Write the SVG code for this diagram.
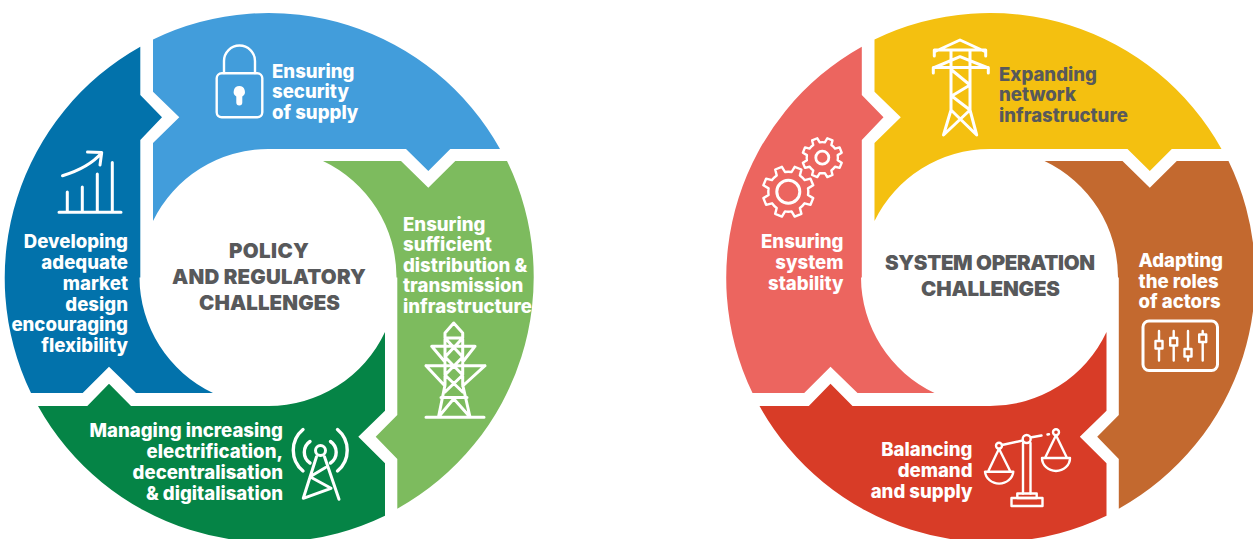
<svg xmlns="http://www.w3.org/2000/svg" xmlns:xlink="http://www.w3.org/1999/xlink" width="1253" height="539" viewBox="0 0 1253 539">
<style>
text{font-family:Inter,"Liberation Sans",sans-serif;font-weight:800;font-size:18.600px;fill:#fff}
.end{text-anchor:end}
.grey{fill:#58595b}
.title{font-size:20.500px;font-weight:900;fill:#58595b;text-anchor:middle}
.ic{fill:none;stroke:#fff;stroke-width:2.400;stroke-linecap:round;stroke-linejoin:round}
.ic2{fill:none;stroke:#fff;stroke-width:3;stroke-linecap:round;stroke-linejoin:round}
</style>
<defs>
<path id="seg1" d="M153 39.500A265 265 0 0 1 500 149L450.300 149L428.300 171L406 149L268 149A128.500 128.500 0 0 0 153 221L153 143L179.300 117.300L153 91.700Z"/>
<path id="seg2" d="M507 161A265 265 0 0 1 397.300 508.700L397.300 459L375.700 436.700L397.300 415L397.300 277.500L396.500 277.500A128.500 128.500 0 0 0 323 161L401 161L428.300 187.700L455.300 161Z"/>
<path id="seg3" d="M385 515.700A265 265 0 0 1 38 406L87.300 406L109 383.700L131 406L268 406A128.500 128.500 0 0 0 385 332L385 410.700L358.300 436.700L385 463.300Z"/>
<path id="seg4" d="M140.300 46.700A265 265 0 0 0 31 393L82.700 393L109 366.700L136 393L213 393A128.500 128.500 0 0 1 139.500 277.500L140.300 277.500L140.300 140L162 117.300L140.300 95Z"/>
<path id="gear" d="M19.700 3.300L24.900 6.400L22.200 13.100L16.300 11.600A20 20 0 0 1 11.600 16.300L13.100 22.200L6.400 24.900L3.300 19.700A20 20 0 0 1 -3.300 19.700L-6.400 24.900L-13.100 22.200L-11.600 16.300A20 20 0 0 1 -16.300 11.600L-22.200 13.100L-24.900 6.400L-19.700 3.300A20 20 0 0 1 -19.700 -3.300L-24.900 -6.400L-22.200 -13.100L-16.300 -11.600A20 20 0 0 1 -11.600 -16.300L-13.100 -22.200L-6.400 -24.900L-3.300 -19.700A20 20 0 0 1 3.300 -19.700L6.400 -24.900L13.100 -22.200L11.600 -16.300A20 20 0 0 1 16.300 -11.600L22.200 -13.100L24.900 -6.400L19.700 -3.300A20 20 0 0 1 19.700 3.300Z"/>
</defs>

<g id="node-security-of-supply">
<use xlink:href="#seg1" href="#seg1" fill="#429ddb"/>
<g class="ic">
<rect x="216.700" y="73.300" width="45.600" height="44" rx="5"/>
<path d="M224 73V61A15.500 15.500 0 0 1 255 61V73"/>
</g>
<path d="M239.300 86a5.700 5.700 0 0 1 3 10.500l0 6a3 3 0 0 1-6 0l0-6a5.700 5.700 0 0 1 3-10.500Z" fill="#fff"/>
<text x="272" y="77.500">Ensuring</text>
<text x="272" y="98">security</text>
<text x="272" y="118.500">of supply</text>
</g>

<g id="node-distribution-transmission">
<use xlink:href="#seg2" href="#seg2" fill="#7dbb5e"/>
<text x="403" y="230.500">Ensuring</text>
<text x="403" y="251">sufficient</text>
<text x="403" y="271.500">distribution &amp;</text>
<text x="403" y="292">transmission</text>
<text x="403" y="313">infrastructure</text>
<path class="ic2" d="M445 385V333L453.700 323L462.700 333V385M445 385L438.500 417M462.700 385L470 417M426 417.300H484M431.700 346.300H475M426 365.700H485M431.700 346.300L445 362M475 346.300L462.700 362M426 365.700L445 386M485 365.700L462.700 386M445 338H462.700M445 338L462.700 357L445 375L462.700 392M462.700 338L445 357L462.700 375L445 392M441 397.500H467M453.700 398.700L438.500 417M453.700 398.700L470 417"/>
</g>

<g id="node-electrification">
<use xlink:href="#seg3" href="#seg3" fill="#058446"/>
<text class="end" x="283" y="437">Managing increasing</text>
<text class="end" x="283" y="458">electrification,</text>
<text class="end" x="283" y="479">decentralisation</text>
<text class="end" x="283" y="500">&amp; digitalisation</text>
<g class="ic2">
<circle cx="320.500" cy="450.500" r="5"/>
<path d="M316.500 456.700L303.300 498.300L331 488.300L310 476.700L325.500 467.500M324.500 456.700L339 499.300"/>
<path stroke-width="3.400" d="M303 429.500A27 27 0 0 0 303 471M310 441.500A13 13 0 0 0 310 463M337.500 429.500A27 27 0 0 1 337.500 471M330.500 441.500A13 13 0 0 1 330.500 463"/>
</g>
</g>

<g id="node-market-design">
<use xlink:href="#seg4" href="#seg4" fill="#0272ab"/>
<text class="end" x="128" y="248">Developing</text>
<text class="end" x="128" y="269">adequate</text>
<text class="end" x="128" y="289.500">market</text>
<text class="end" x="128" y="310.500">design</text>
<text class="end" x="128" y="331">encouraging</text>
<text class="end" x="128" y="352">flexibility</text>
<path class="ic2" d="M59 212.300H121M67.300 212.300V192M82.300 212.300V187M97.300 212.300V174M112.300 212.300V162.500M62.500 175.700C78 171 92 164 101.500 153M87.500 152L101.700 152.500L100 165"/>
</g>

<text id="title-policy-1" class="title" x="269" y="257.500" textLength="80">POLICY</text>
<text id="title-policy-2" class="title" x="269" y="283.500" textLength="194">AND REGULATORY</text>
<text id="title-policy-3" class="title" x="269.500" y="309.500" textLength="141">CHALLENGES</text>

<g id="node-expanding-network">
<use xlink:href="#seg1" href="#seg1" transform="translate(721.500 0)" fill="#f4c010"/>
<path class="ic2" d="M951 50V110L943.500 135L970 110M970 50V110L976.700 135L951 110M935 51.500L960 40L985 51.500M934.300 50H985.700M934.300 50V56M985.700 50V56M934.500 67.500L960 56.700L987 67.500M933.300 67.500H988.300M933.300 67.500V73M988.300 67.500V73M951.700 70L970 85L951.700 96L970 110"/>
<text class="grey" x="999" y="81">Expanding</text>
<text class="grey" x="999" y="101">network</text>
<text class="grey" x="999" y="121.500">infrastructure</text>
</g>

<g id="node-adapting-roles">
<use xlink:href="#seg2" href="#seg2" transform="translate(721.500 0)" fill="#c3692f"/>
<text x="1138.500" y="267">Adapting</text>
<text x="1138.500" y="287.500">the roles</text>
<text x="1138.500" y="308">of actors</text>
<rect class="ic2" x="1143" y="321" width="74.500" height="49.500" rx="6"/>
<g class="ic">
<path d="M1159 331V360.500M1173.700 331V360.500M1188 331V360.500M1202.700 331V360.500"/>
<rect x="1155.500" y="341" width="7" height="7.500" fill="#c3692f"/>
<rect x="1170.200" y="338" width="7" height="7.500" fill="#c3692f"/>
<rect x="1184.500" y="349" width="7" height="7.500" fill="#c3692f"/>
<rect x="1199.200" y="334.500" width="7" height="7.500" fill="#c3692f"/>
</g>
</g>

<g id="node-balancing">
<use xlink:href="#seg3" href="#seg3" transform="translate(721.500 0)" fill="#d83c27"/>
<text class="end" x="972.500" y="455.500">Balancing</text>
<text class="end" x="972.500" y="476.500">demand</text>
<text class="end" x="972.500" y="497.500">and supply</text>
<g class="ic">
<circle cx="1026.700" cy="439" r="4"/>
<circle cx="999" cy="445.700" r="3"/>
<circle cx="1056" cy="432.300" r="3"/>
<path d="M1002 445L1022.700 440.500M1031.700 437.300L1041.500 435.500M1047.500 434.500L1049 434.200"/>
<path d="M1023 443V493.500M1030.500 443V493.500"/>
<rect x="1017.300" y="493.500" width="19.400" height="4.500"/>
<rect x="1011.500" y="498" width="31" height="8"/>
<path d="M999 448.700L988 471.700M999 448.700L1010.500 471.700M985 471.700H1013.300A14.200 13 0 0 1 985 471.700Z"/>
<path d="M1056 435.300L1045 458M1056 435.300L1067 458M1042 458H1070A14 13 0 0 1 1042 458Z"/>
</g>
</g>

<g id="node-system-stability">
<use xlink:href="#seg4" href="#seg4" transform="translate(721.500 0)" fill="#ec655f"/>
<text class="end" x="843.500" y="248">Ensuring</text>
<text class="end" x="843.500" y="269">system</text>
<text class="end" x="843.500" y="290">stability</text>
<g class="ic">
<use xlink:href="#gear" href="#gear" transform="translate(788.300 191.700)"/>
<circle cx="788.300" cy="191.700" r="11.500" stroke-width="3"/>
<use xlink:href="#gear" href="#gear" transform="translate(822.300 157.700) scale(.78)" stroke-width="3"/>
<circle cx="822.300" cy="157.700" r="6.500" stroke-width="2.800"/>
</g>
</g>

<text id="title-system-1" class="title" x="990" y="270" textLength="210">SYSTEM OPERATION</text>
<text id="title-system-2" class="title" x="990.500" y="296" textLength="139">CHALLENGES</text>
</svg>
